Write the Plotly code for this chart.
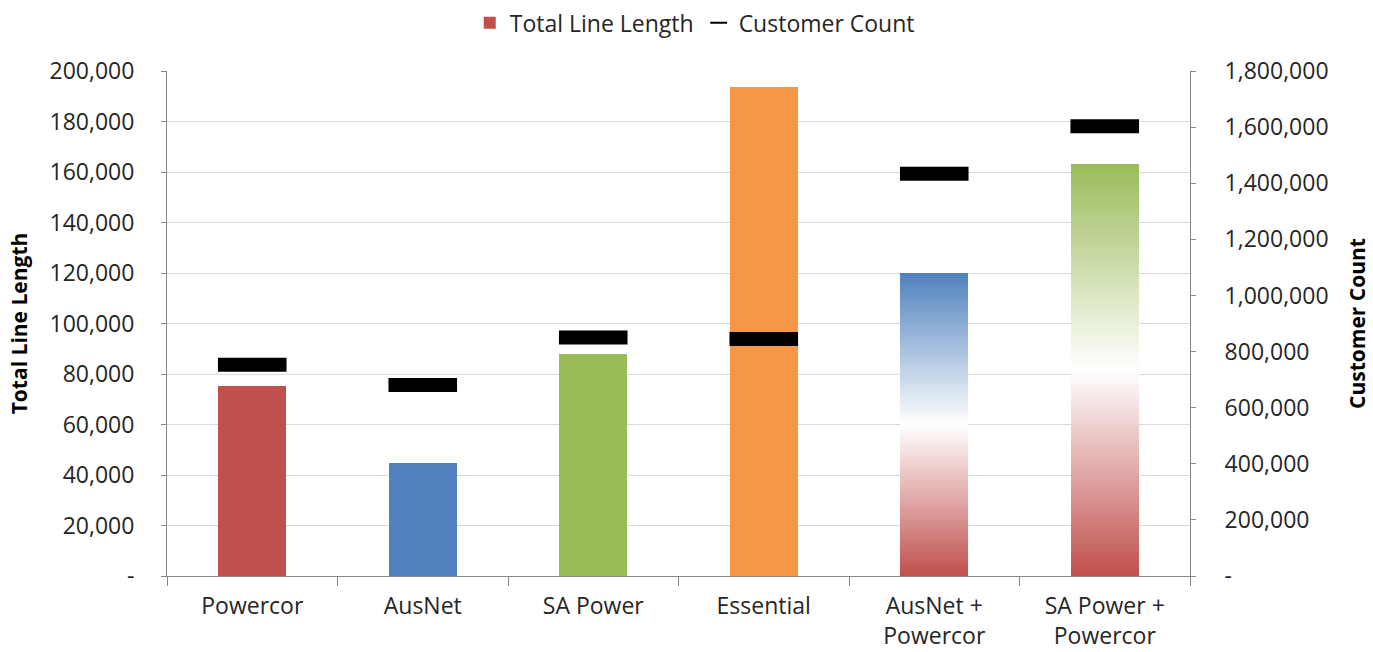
import plotly.graph_objects as go

categories = ["Powercor", "AusNet", "SA Power", "Essential", "AusNet +<br>Powercor", "SA Power +<br>Powercor"]
line_length = [75200, 44800, 88000, 193700, 120000, 163200]
customer_count = [753000, 681000, 850000, 845000, 1434000, 1603000]
left_ticks = [0, 20000, 40000, 60000, 80000, 100000, 120000, 140000, 160000, 180000, 200000]
left_tick_text = ["-", "20,000", "40,000", "60,000", "80,000", "100,000", "120,000", "140,000", "160,000", "180,000", "200,000"]
right_ticks = [0, 200000, 400000, 600000, 800000, 1000000, 1200000, 1400000, 1600000, 1800000]
right_tick_text = ["-", "200,000", "400,000", "600,000", "800,000", "1,000,000", "1,200,000", "1,400,000", "1,600,000", "1,800,000"]

solid_colors = {0: "#C0504D", 1: "#4F81BD", 2: "#9BBB59", 3: "#F79646"}
# gradient bars: (bottom colour, middle, top colour)
gradients = {4: ("#C0504D", "#FFFFFF", "#4F81BD"), 5: ("#C0504D", "#FFFFFF", "#9BBB59")}

FONT = "Open Sans"
TXT = "#262626"


def hex2rgb(h):
    h = h.lstrip("#")
    return [int(h[i:i + 2], 16) for i in (0, 2, 4)]


def mix(a, b, t):
    a, b = hex2rgb(a), hex2rgb(b)
    return "rgb(%d,%d,%d)" % tuple(round(a[i] + (b[i] - a[i]) * t) for i in range(3))


fig = go.Figure()

for i, c in solid_colors.items():
    fig.add_trace(go.Bar(
        x=[categories[i]], y=[line_length[i]], marker=dict(color=c, line=dict(width=0)),
        name="Total Line Length", showlegend=(i == 0), legendrank=1, width=0.4,
    ))

N = 120
for i, (c0, cm, c1) in gradients.items():
    seg = line_length[i] / N
    xs, ys, cols = [], [], []
    for k in range(N):
        t = (k + 0.5) / N
        col = mix(c0, cm, t / 0.5) if t < 0.5 else mix(cm, c1, (t - 0.5) / 0.5)
        xs.append(categories[i]); ys.append(seg); cols.append(col)
    fig.add_trace(go.Bar(
        x=xs, y=ys, marker=dict(color=cols, line=dict(width=0)),
        showlegend=False, width=0.4, hoverinfo="skip",
    ))

fig.add_trace(go.Scatter(
    x=categories, y=customer_count, yaxis="y2", mode="markers", name="Customer Count",
    marker=dict(symbol="line-ew", size=49, color="black", line=dict(color="black", width=14)),
    legendrank=2,
))

fig.update_layout(
    width=1373, height=652,
    barmode="stack", bargap=0.6,
    paper_bgcolor="white", plot_bgcolor="white",
    margin=dict(l=167, r=183, t=71, b=76, autoexpand=False),
    font=dict(family=FONT, size=23, color=TXT),
    legend=dict(orientation="h", xref="container", x=0.506, xanchor="center",
                yref="container", y=0.965, yanchor="middle",
                font=dict(family=FONT, size=23, color=TXT), itemsizing="constant",
                traceorder="normal"),
    xaxis=dict(
        type="category", range=[-0.5, 5.5], automargin=False,
        tickson="boundaries", ticks="outside", ticklen=9, tickcolor="#868686",
        showline=True, linecolor="#868686", linewidth=1, showgrid=False,
        tickfont=dict(family=FONT, size=23, color=TXT), ticklabelstandoff=9,
    ),
    yaxis=dict(
        range=[0, 200000], tickvals=left_ticks, ticktext=left_tick_text, automargin=False,
        ticks="outside", ticklen=5, tickcolor="#868686",
        showline=True, linecolor="#868686", linewidth=1,
        showgrid=True, gridcolor="#D9D9D9", gridwidth=1, zeroline=False,
        tickfont=dict(family=FONT, size=23, color=TXT), ticklabelstandoff=22,
        title=dict(text="<b>Total Line Length</b>", font=dict(family=FONT, size=21, color="black"), standoff=16),
    ),
    yaxis2=dict(
        range=[0, 1800000], tickvals=right_ticks, ticktext=right_tick_text, automargin=False,
        overlaying="y", side="right",
        ticks="outside", ticklen=5, tickcolor="#868686",
        showline=True, linecolor="#868686", linewidth=1,
        showgrid=False, zeroline=False,
        tickfont=dict(family=FONT, size=23, color=TXT), ticklabelstandoff=24,
        title=dict(text="<b>Customer Count</b>", font=dict(family=FONT, size=21, color="black"), standoff=22),
    ),
)

fig.write_html("out.html")
